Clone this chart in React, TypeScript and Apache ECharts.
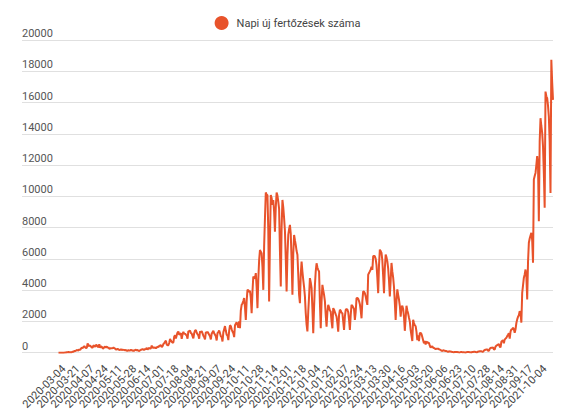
import { useEffect, useRef } from "react";
import * as echarts from "echarts";

const SERIES_NAME = "Napi új fertőzések száma";
const LINE_COLOR = "#e8532b";

const FIRST_DAY = "2020-03-04";
const LAST_DAY = "2021-10-20";
const MISSING_DAYS = ["2021-07-19"];

const TICK_LABELS = [
  "2020-03-04", "2020-03-21", "2020-04-07", "2020-04-24", "2020-05-11", "2020-05-28",
  "2020-06-14", "2020-07-01", "2020-07-18", "2020-08-04", "2020-08-21", "2020-09-07",
  "2020-09-24", "2020-10-11", "2020-10-28", "2020-11-14", "2020-12-01", "2020-12-18",
  "2021-01-04", "2021-01-21", "2021-02-07", "2021-02-24", "2021-03-13", "2021-03-30",
  "2021-04-16", "2021-05-03", "2021-05-20", "2021-06-06", "2021-06-23", "2021-07-10",
  "2021-07-28", "2021-08-14", "2021-08-31", "2021-09-17", "2021-10-04",
];

const Y_MIN = 0;
const Y_MAX = 20000;
const Y_STEP = 2000;

const DAILY_CASES = [
  1, 1, 2, 1, 2, 3, 2,
  4, 14, 10, 24, 30, 45, 26,
  29, 31, 35, 59, 66, 103, 110,
  130, 170, 150, 140, 220, 180, 260,
  330, 300, 360, 420, 350, 290, 320,
  600, 420, 460, 450, 400, 330, 330,
  470, 430, 380, 500, 480, 380, 370,
  540, 320, 410, 380, 280, 270, 360,
  390, 330, 400, 310, 340, 250, 260,
  300, 270, 300, 330, 290, 260, 190,
  220, 240, 210, 170, 180, 210, 170,
  200, 180, 170, 160, 165, 125, 130,
  165, 135, 135, 180, 155, 130, 140,
  130, 180, 185, 150, 175, 120, 115,
  155, 185, 205, 235, 180, 190, 250,
  215, 310, 200, 280, 300, 260, 285,
  450, 320, 330, 320, 330, 275, 335,
  390, 355, 430, 460, 480, 350, 415,
  555, 610, 690, 770, 520, 470, 480,
  620, 880, 770, 700, 640, 660, 1030,
  1110, 900, 1120, 1280, 1350, 1150, 1200,
  1250, 880, 1180, 1330, 1200, 1220, 1150,
  1100, 900, 1380, 1360, 1420, 1250, 1230,
  1060, 920, 1260, 1420, 1450, 1280, 1180,
  1100, 900, 1370, 1300, 1380, 1240, 1090,
  1000, 850, 1320, 1280, 1330, 1250, 1150,
  1050, 850, 1220, 1300, 1400, 1250, 1150,
  1050, 780, 1250, 1320, 1420, 1250, 1050,
  1000, 720, 1300, 1500, 1700, 1400, 1150,
  1100, 800, 1400, 1750, 1700, 1500, 1350,
  1250, 1000, 1750, 1850, 1950, 1800, 1600,
  2000, 1570, 2700, 3060, 3150, 3300, 3490,
  2900, 2100, 3300, 4020, 4000, 3900, 3960,
  3500, 2530, 3900, 4870, 4800, 4750, 5090,
  4200, 2850, 4700, 5900, 6570, 6450, 6360,
  5500, 4020, 6800, 8600, 10250, 10100, 10090,
  7800, 3280, 7200, 10090, 9900, 9450, 9770,
  9000, 7740, 9300, 10250, 10050, 9660, 9200,
  6500, 4230, 8000, 9770, 9300, 8600, 7800,
  6000, 3910, 6200, 7530, 7900, 8170, 7600,
  5900, 3700, 6300, 7530, 7200, 6890, 6500,
  6260, 5000, 3700, 3170, 5000, 5830, 5190,
  4660, 4200, 3600, 2530, 1800, 1360, 2600,
  3600, 4770, 4500, 4130, 2800, 1250, 2900,
  4300, 5200, 5720, 5450, 5300, 5190, 3200,
  1560, 3300, 4340, 4000, 3700, 3300, 2400,
  1670, 2600, 3060, 2900, 2700, 2630, 2000,
  1560, 2850, 2750, 2600, 2450, 2310, 1900,
  1350, 2400, 2740, 2700, 2550, 2530, 2000,
  1460, 2300, 2740, 2800, 2750, 2600, 2100,
  1460, 2400, 3060, 3000, 2900, 2800, 2100,
  2600, 3490, 3500, 3450, 3300, 3100, 2700,
  2200, 3300, 3920, 3900, 3800, 3600, 3300,
  3060, 4990, 5100, 5200, 5310, 5500, 5300,
  6160, 6200, 6160, 6000, 5600, 4800, 3810,
  5600, 6590, 6500, 6380, 5900, 4900, 3810,
  5400, 6270, 6100, 5840, 5400, 4600, 3600,
  4600, 5740, 5200, 4800, 4200, 3200, 2100,
  3300, 4050, 3700, 3400, 3000, 2310, 2900,
  3000, 2800, 2300, 1400, 2200, 3000, 2700,
  2500, 2240, 2000, 1460, 1100, 745, 2100,
  1900, 1750, 1700, 1350, 810, 1100, 745,
  1240, 1280, 1200, 1000, 800, 600, 750,
  530, 700, 680, 620, 640, 450, 320,
  380, 400, 330, 300, 280, 220, 255,
  255, 260, 220, 200, 180, 130, 110,
  150, 140, 120, 110, 105, 80, 60,
  90, 80, 70, 60, 50, 35, 30,
  50, 45, 40, 40, 35, 25, 20,
  40, 40, 35, 30, 30, 20, 15,
  35, 40, 45, 40, 35, 25, 20,
  45, 50, 55, 60, 50, 30, 30,
  70, 80, 90, 100, 95, 60, 60,
  130, 170, 190, 200, 210, 130, 120,
  250, 300, 320, 310, 330, 220, 200,
  400, 450, 480, 520, 560, 380, 350,
  700, 760, 800, 600, 850, 900, 950,
  1060, 1150, 1250, 900, 1350, 1490, 1500,
  1600, 1500, 1280, 1500, 1900, 2130, 2300,
  2400, 2660, 2500, 1920, 3830, 4300, 4800,
  5000, 5320, 4900, 3400, 5800, 7030, 7300,
  7500, 7670, 7200, 5750, 11080, 11300, 11500,
  12000, 12570, 12000, 8410, 13500, 15000, 14500,
  14060, 13200, 11500, 9270, 16700, 16400, 16280,
  15800, 15100, 13500, 10220, 18740, 17300, 16170,
];

function buildDates(): string[] {
  const out: string[] = [];
  const d = new Date(FIRST_DAY + "T00:00:00Z");
  const end = new Date(LAST_DAY + "T00:00:00Z");
  while (d.getTime() <= end.getTime()) {
    const s = d.toISOString().slice(0, 10);
    if (!MISSING_DAYS.includes(s)) out.push(s);
    d.setUTCDate(d.getUTCDate() + 1);
  }
  return out;
}

const DATES = buildDates();

export default function App() {
  const ref = useRef<HTMLDivElement>(null);

  useEffect(() => {
    document.body.style.margin = "0";
    if (!ref.current) return;
    const chart = echarts.init(ref.current, undefined, { renderer: "svg" });
    const font = "Roboto, 'Noto Sans', sans-serif";
    chart.setOption({
      animation: false,
      backgroundColor: "#ffffff",
      textStyle: { fontFamily: font },
      legend: {
        top: 11,
        left: "center",
        icon: "circle",
        itemWidth: 14,
        itemHeight: 14,
        textStyle: { fontSize: 11, color: "#444444", fontFamily: font, padding: [0, 0, 0, 3] },
        data: [SERIES_NAME],
      },
      grid: [
        { left: 22, right: 22, top: 40, bottom: 61.3 },
        { left: 58.5, right: 22, top: 40, bottom: 61.3 },
      ],
      xAxis: [
        { gridIndex: 0, type: "value", show: false, min: 0, max: 1 },
        {
          gridIndex: 1,
          type: "category",
          data: DATES,
          boundaryGap: false,
          axisLine: { show: false },
          axisTick: { show: false },
          splitLine: { show: false },
          axisLabel: {
            interval: 0,
            formatter: (v: string) => (TICK_LABELS.includes(v) ? v : ""),
            hideOverlap: false,
            rotate: 45,
            fontSize: 11,
            color: "#444444",
            margin: 9,
            verticalAlign: "top",
            padding: [2, 0, 0, 0],
            fontFamily: font,
          },
        },
      ],
      yAxis: [
        {
          gridIndex: 0,
          type: "value",
          min: Y_MIN,
          max: Y_MAX,
          interval: Y_STEP,
          axisLine: { show: false },
          axisTick: { show: false },
          splitLine: { lineStyle: { color: "#e0e0e0", width: 1 } },
          axisLabel: {
            inside: true,
            margin: 0,
            verticalAlign: "bottom",
            fontSize: 11,
            color: "#555555",
            fontFamily: font,
            padding: [0, 0, 1, 0],
            formatter: (v: number) => String(v),
          },
        },
        { gridIndex: 1, type: "value", min: Y_MIN, max: Y_MAX, show: false },
      ],
      series: [
        {
          name: SERIES_NAME,
          type: "line",
          xAxisIndex: 1,
          yAxisIndex: 1,
          data: DAILY_CASES,
          showSymbol: false,
          symbol: "none",
          lineStyle: { color: LINE_COLOR, width: 2 },
          itemStyle: { color: LINE_COLOR },
        },
      ],
    });
    return () => chart.dispose();
  }, []);

  return (
    <div
      ref={ref}
      style={{ position: "fixed", left: 0, top: 0, width: 575, height: 414 }}
    />
  );
}
